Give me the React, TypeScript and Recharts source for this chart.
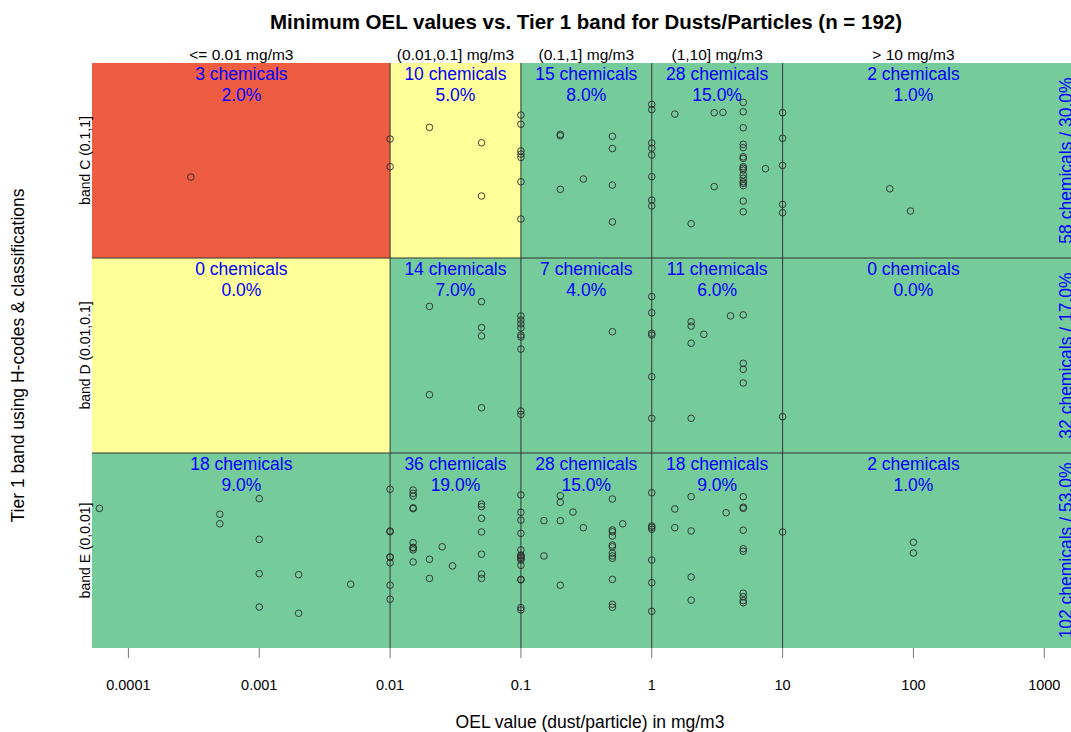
import { ComposedChart, ReferenceArea, ReferenceLine, Scatter, XAxis, YAxis } from 'recharts'

const XMIN = 5.27e-5
const XMAX = 1875

const FONT = '"Liberation Sans", Arial, sans-serif'
const RED = '#ee5c42'
const YELLOW = '#ffff99'
const GREEN = '#76cb9b'
const BLUE = '#0000ff'

// OEL class boundaries (mg/m3) and labels
const classEdges = [XMIN, 0.01, 0.1, 1, 10, XMAX]
const classLabels = ['<= 0.01 mg/m3', '(0.01,0.1] mg/m3', '(0.1,1] mg/m3', '(1,10] mg/m3', '> 10 mg/m3']
const classCenters = [0.00073, 0.0316, 0.316, 3.16, 100]

// bands, bottom to top (y = 1, 2, 3)
const bandNames = ['band E (0,0.01]', 'band D (0.01,0.1]', 'band C (0.1,1]']
const bandTotals = ['102 chemicals / 53.0%', '32 chemicals / 17.0%', '58 chemicals / 30.0%']

const countsE = [18, 36, 28, 18, 2]
const countsD = [0, 14, 7, 11, 0]
const countsC = [3, 10, 15, 28, 2]
const pctE = ['9.0%', '19.0%', '15.0%', '9.0%', '1.0%']
const pctD = ['0.0%', '7.0%', '4.0%', '6.0%', '0.0%']
const pctC = ['2.0%', '5.0%', '8.0%', '15.0%', '1.0%']

const colorsE = [GREEN, GREEN, GREEN, GREEN, GREEN]
const colorsD = [YELLOW, GREEN, GREEN, GREEN, GREEN]
const colorsC = [RED, YELLOW, GREEN, GREEN, GREEN]

// [OEL mg/m3, jittered band position]
const pointsC: [number, number][] = [
  [0.0003, 2.915],
  [0.01, 3.11], [0.01, 2.968],
  [0.02, 3.17],
  [0.05, 3.091], [0.05, 2.818],
  [0.1, 3.233], [0.1, 3.186], [0.1, 3.049], [0.1, 3.033], [0.1, 3.016], [0.1, 2.891], [0.1, 2.7],
  [0.2, 3.134], [0.2, 3.127], [0.2, 2.852],
  [0.3, 2.905],
  [0.5, 3.124], [0.5, 3.061], [0.5, 2.874], [0.5, 2.685],
  [1, 3.288], [1, 3.261], [1, 3.09], [1, 3.063], [1, 3.028], [1, 2.917], [1, 2.797], [1, 2.767],
  [1.5, 3.238], [3, 3.245], [3.5, 3.247], [3, 2.866], [2, 2.676], [7.4, 2.958],
  [5, 3.298], [5, 3.25], [5, 3.168], [5, 3.083], [5, 3.066], [5, 3.019], [5, 3.011], [5, 2.968], [5, 2.96],
  [5, 2.951], [5, 2.926], [5, 2.909], [5, 2.891], [5, 2.883], [5, 2.871], [5, 2.792], [5, 2.737],
  [10, 3.245], [10, 3.114], [10, 2.975], [10, 2.775], [10, 2.732],
  [66, 2.855], [95, 2.741],
]

const pointsD: [number, number][] = [
  [0.02, 2.252], [0.02, 1.799],
  [0.05, 2.276], [0.05, 2.143], [0.05, 2.1], [0.05, 1.732],
  [0.1, 2.203], [0.1, 2.182], [0.1, 2.162], [0.1, 2.141], [0.1, 2.105], [0.1, 2.095], [0.1, 2.033], [0.1, 1.715], [0.1, 1.698],
  [0.5, 2.122],
  [1, 2.302], [1, 2.219], [1, 2.114], [1, 2.105], [1, 1.891], [1, 1.678],
  [2, 2.173], [2, 2.151], [2, 2.063], [2, 1.678],
  [2.5, 2.109], [4, 2.203],
  [5, 2.208], [5, 1.96], [5, 1.929], [5, 1.859],
  [10, 1.686],
]

const pointsE: [number, number][] = [
  [0.00006, 1.216],
  [0.0005, 1.186], [0.0005, 1.137],
  [0.001, 1.266], [0.001, 1.057], [0.001, 0.881], [0.001, 0.71],
  [0.002, 0.876], [0.002, 0.678],
  [0.005, 0.827],
  [0.01, 1.314], [0.01, 1.1], [0.01, 1.096], [0.01, 0.965], [0.01, 0.967], [0.01, 0.937], [0.01, 0.822], [0.01, 0.75],
  [0.015, 1.31], [0.015, 1.293], [0.015, 1.279], [0.015, 1.219], [0.015, 1.215], [0.015, 1.04], [0.015, 1.016],
  [0.015, 1.013], [0.015, 1.003], [0.015, 0.941],
  [0.02, 0.955], [0.02, 0.857],
  [0.025, 1.019], [0.03, 0.921],
  [0.05, 1.238], [0.05, 1.225], [0.05, 1.165], [0.05, 1.095], [0.05, 0.981], [0.05, 0.879], [0.05, 0.857],
  [0.1, 1.285], [0.1, 1.196], [0.1, 1.156], [0.1, 1.088], [0.1, 1.003], [0.1, 0.977], [0.1, 0.972], [0.1, 0.965],
  [0.1, 0.959], [0.1, 0.951], [0.1, 0.924], [0.1, 0.852], [0.1, 0.849], [0.1, 0.707], [0.1, 0.695],
  [0.15, 1.153], [0.15, 0.972],
  [0.2, 1.281], [0.2, 1.247], [0.2, 1.153], [0.2, 0.822],
  [0.25, 1.197], [0.3, 1.117], [0.6, 1.137],
  [0.5, 1.264], [0.5, 1.105], [0.5, 1.096], [0.5, 1.074], [0.5, 1.028], [0.5, 1.019], [0.5, 0.986], [0.5, 0.972],
  [0.5, 0.96], [0.5, 0.852], [0.5, 0.724], [0.5, 0.709],
  [1, 1.296], [1, 1.126], [1, 1.119], [1, 1.109], [1, 0.951], [1, 0.835], [1, 0.688],
  [1.5, 1.213], [1.5, 1.117],
  [2, 1.276], [2, 1.1], [2, 0.864], [2, 0.745],
  [3.7, 1.194],
  [5, 1.276], [5, 1.222], [5, 1.216], [5, 1.104], [5, 1.009], [5, 0.996], [5, 0.781], [5, 0.763], [5, 0.743], [5, 0.732],
  [10, 1.095],
  [100, 1.042], [100, 0.987],
]

const xTicks = [0.0001, 0.001, 0.01, 0.1, 1, 10, 100, 1000]

const bands = [
  { y: 1, counts: countsE, pct: pctE, colors: colorsE },
  { y: 2, counts: countsD, pct: pctD, colors: colorsD },
  { y: 3, counts: countsC, pct: pctC, colors: colorsC },
]

const points = [...pointsE, ...pointsD, ...pointsC].map(([oel, y]) => ({ oel, y }))

const cellLabels = bands.flatMap((b) =>
  classCenters.map((c, i) => ({ oel: c, y: b.y + 0.5, count: b.counts[i], pct: b.pct[i] })),
)

const totalLabels = bandTotals.map((t, i) => ({ oel: 1466, y: i + 1, text: t }))

const Circle = (props: any) => (
  <circle cx={props.cx} cy={props.cy} r={3.3} fill="none" stroke="#2a2a2a" strokeWidth={0.9} />
)

const CellLabel = (props: any) => {
  const { cx, cy, payload } = props
  return (
    <g fontFamily={FONT} fontSize={17.5} fill={BLUE} textAnchor="middle">
      <text x={cx} y={cy + 17}>{payload.count} chemicals</text>
      <text x={cx} y={cy + 38}>{payload.pct}</text>
    </g>
  )
}

const TotalLabel = (props: any) => {
  const { cx, cy, payload } = props
  return (
    <text
      x={cx}
      y={cy}
      transform={`rotate(-90, ${cx}, ${cy})`}
      textAnchor="middle"
      dominantBaseline="central"
      fontFamily={FONT}
      fontSize={17.5}
      fill={BLUE}
    >
      {payload.text}
    </text>
  )
}

const TopTick = (props: any) => {
  const { x, y, payload } = props
  const i = classCenters.indexOf(payload.value)
  return (
    <text x={x} y={y - 3} textAnchor="middle" fontFamily={FONT} fontSize={15.5} fill="#000">
      {classLabels[i]}
    </text>
  )
}

const BandTick = (props: any) => {
  const { x, y, payload } = props
  const lx = x - 2
  return (
    <text
      x={lx}
      y={y}
      transform={`rotate(-90, ${lx}, ${y})`}
      textAnchor="middle"
      fontFamily={FONT}
      fontSize={14}
      fill="#000"
    >
      {bandNames[payload.value - 1]}
    </text>
  )
}

export default function App() {
  return (
    <div style={{ position: 'absolute', left: 0, top: 0, width: 1071, height: 732, overflow: 'hidden', background: '#fff' }}>
      <ComposedChart width={1100} height={732} margin={{ top: 30, right: 20, left: 0, bottom: 0 }}>
        <XAxis
          xAxisId="x"
          dataKey="oel"
          type="number"
          scale="log"
          domain={[XMIN, XMAX]}
          allowDataOverflow
          ticks={xTicks}
          tickFormatter={(v) => String(v)}
          height={84}
          tickSize={10}
          tickMargin={22}
          axisLine={false}
          tickLine={{ stroke: '#777' }}
          tick={{ fill: '#000', fontSize: 14.5, fontFamily: FONT }}
        />
        <XAxis
          xAxisId="top"
          orientation="top"
          dataKey="oel"
          type="number"
          scale="log"
          domain={[XMIN, XMAX]}
          allowDataOverflow
          ticks={classCenters}
          height={33}
          tickSize={0}
          tickMargin={0}
          axisLine={false}
          tickLine={false}
          tick={<TopTick />}
        />
        <YAxis
          yAxisId="y"
          dataKey="y"
          type="number"
          domain={[0.5, 3.5]}
          ticks={[1, 2, 3]}
          width={92}
          tickSize={0}
          tickMargin={0}
          axisLine={false}
          tickLine={false}
          tick={<BandTick />}
        />
        {bands.flatMap((b) =>
          b.colors.map((c, i) => (
            <ReferenceArea
              key={`cell-${b.y}-${i}`}
              xAxisId="x"
              yAxisId="y"
              x1={classEdges[i]}
              x2={classEdges[i + 1]}
              y1={b.y - 0.5}
              y2={b.y + 0.5}
              fill={c}
              fillOpacity={1}
              stroke="none"
              ifOverflow="hidden"
            />
          )),
        )}
        {[1.5, 2.5].map((v) => (
          <ReferenceLine key={`h-${v}`} xAxisId="x" yAxisId="y" y={v} stroke="#333" strokeWidth={1} />
        ))}
        {[0.01, 0.1, 1, 10].map((v) => (
          <ReferenceLine key={`v-${v}`} xAxisId="x" yAxisId="y" x={v} stroke="#333" strokeWidth={1} />
        ))}
        <Scatter xAxisId="x" yAxisId="y" data={points} shape={<Circle />} isAnimationActive={false} />
        <Scatter xAxisId="x" yAxisId="y" data={cellLabels} shape={<CellLabel />} isAnimationActive={false} />
        <Scatter xAxisId="x" yAxisId="y" data={totalLabels} shape={<TotalLabel />} isAnimationActive={false} />
      </ComposedChart>
      <svg width={1071} height={732} style={{ position: 'absolute', left: 0, top: 0, pointerEvents: 'none' }}>
        <text x={586} y={29} textAnchor="middle" fontFamily={FONT} fontSize={20.5} fontWeight="bold" fill="#000">
          Minimum OEL values vs. Tier 1 band for Dusts/Particles (n = 192)
        </text>
        <text x={590} y={728} textAnchor="middle" fontFamily={FONT} fontSize={17.5} fill="#000">
          OEL value (dust/particle) in mg/m3
        </text>
        <text
          x={24}
          y={355.5}
          transform="rotate(-90, 24, 355.5)"
          textAnchor="middle"
          fontFamily={FONT}
          fontSize={17.5}
          fill="#000"
        >
          Tier 1 band using H-codes &amp; classifications
        </text>
      </svg>
    </div>
  )
}
